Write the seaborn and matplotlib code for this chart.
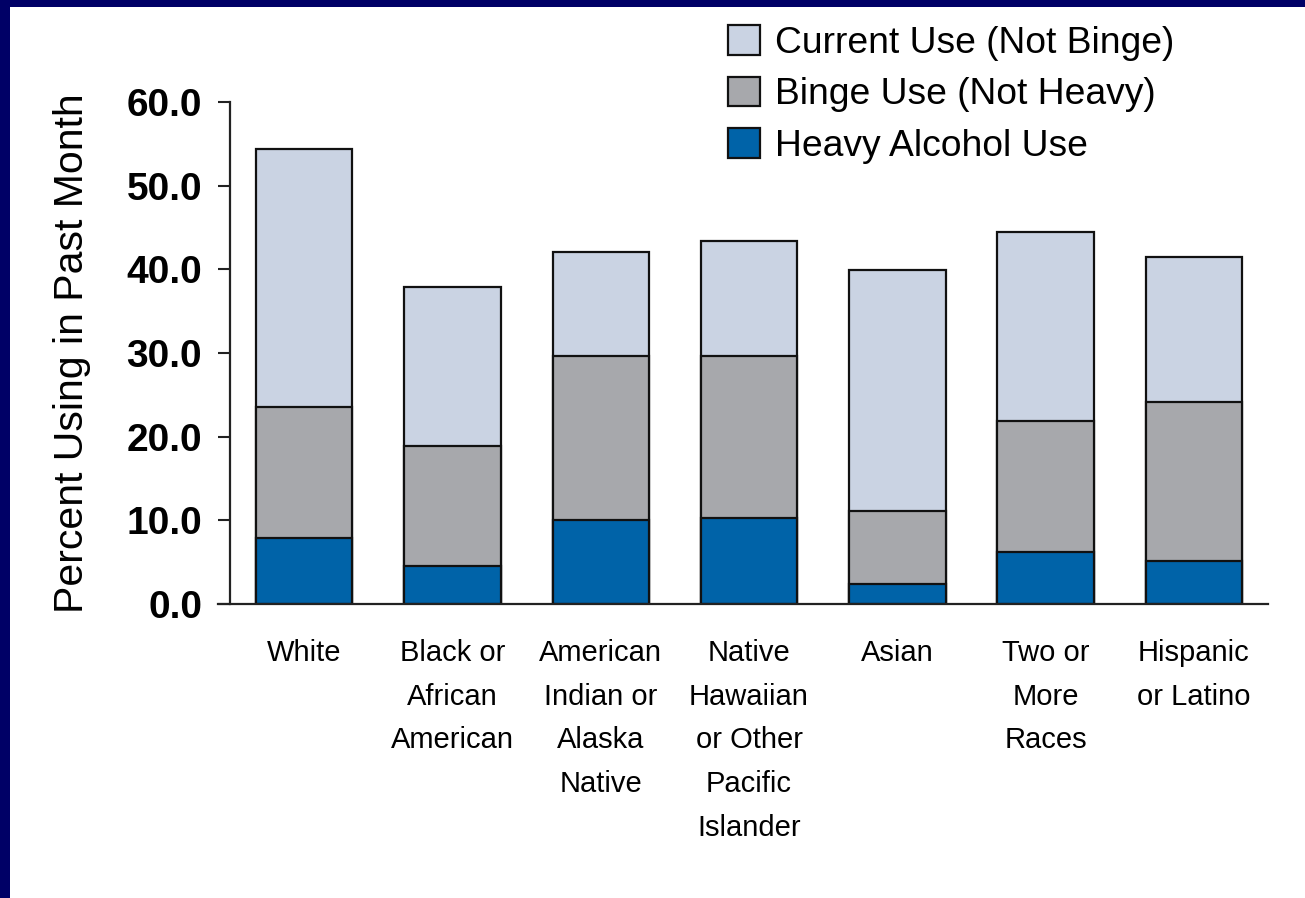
import numpy as np
import pandas as pd
import seaborn as sns
import matplotlib
matplotlib.use("Agg")
import matplotlib.pyplot as plt
from matplotlib.patches import Rectangle

# Past-month alcohol use by race/ethnicity (percent)
groups = [
    "White",
    "Black or\nAfrican\nAmerican",
    "American\nIndian or\nAlaska\nNative",
    "Native\nHawaiian\nor Other\nPacific\nIslander",
    "Asian",
    "Two or\nMore\nRaces",
    "Hispanic\nor Latino",
]
heavy_use = [7.9, 4.5, 10.0, 10.3, 2.4, 6.2, 5.1]
binge_not_heavy = [15.6, 14.4, 19.6, 19.3, 8.7, 15.7, 19.0]
current_not_binge = [30.9, 19.0, 12.5, 13.8, 28.8, 22.6, 17.4]

series_names = ["Current Use (Not Binge)", "Binge Use (Not Heavy)", "Heavy Alcohol Use"]
series_colors = ["#CAD3E3", "#A7A8AC", "#0063A8"]
y_ticks = [0, 10, 20, 30, 40, 50, 60]

sns.set_theme(style="white")
plt.rcParams["font.family"] = ["Liberation Sans", "DejaVu Sans"]
plt.rcParams["text.color"] = "black"
plt.rcParams["axes.labelcolor"] = "black"
plt.rcParams["xtick.color"] = "black"
plt.rcParams["ytick.color"] = "black"

df = pd.DataFrame({
    "group": groups,
    "heavy": heavy_use,
    "binge": binge_not_heavy,
    "current": current_not_binge,
})
# Cumulative heights for stacking, drawn back to front
df["top_heavy"] = df["heavy"]
df["top_binge"] = df["heavy"] + df["binge"]
df["top_current"] = df["top_binge"] + df["current"]

fig = plt.figure(figsize=(13.05, 8.98), dpi=100)
fig.patch.set_facecolor("white")
ax = fig.add_axes([0.1762, 0.3274, 0.7955, 0.559])

for col, name, color in zip(["top_current", "top_binge", "top_heavy"], series_names, series_colors):
    sns.barplot(data=df, x="group", y=col, color=color, label=name,
                width=0.65, edgecolor="#111111", linewidth=1.6,
                saturation=1, ax=ax, order=groups)

ax.set_ylim(0, 60)
ax.set_xlim(-0.5, 6.5)
ax.set_yticks(y_ticks)
ax.set_yticklabels([f"{v:.1f}" for v in y_ticks], fontsize=28, fontweight="bold")
ax.set_xticks(range(len(groups)))
ax.set_xticklabels(groups, fontsize=21, linespacing=1.72, ha="center", va="top")
ax.tick_params(axis="y", direction="out", length=9, width=1.5, color="#222222", pad=11, left=True)
ax.tick_params(axis="x", length=0, pad=25)
ax.set_xlabel("")
ax.set_ylabel("Percent Using in Past Month", fontsize=29.5)
ax.yaxis.label.set_va("center")
ax.yaxis.set_label_coords(-0.1525, 0.5)

for side in ["top", "right"]:
    ax.spines[side].set_visible(False)
ax.spines["left"].set_color("#222222")
ax.spines["left"].set_linewidth(1.6)
ax.spines["bottom"].set_color("#222222")
ax.spines["bottom"].set_linewidth(1.6)
ax.spines["bottom"].set_bounds(-0.58, 6.5)

leg = ax.legend(loc="upper left", bbox_to_anchor=(0.558, 0.972), bbox_transform=fig.transFigure,
                frameon=False, fontsize=26.8, handlelength=0.85, handleheight=0.85,
                handletextpad=0.4, labelspacing=0.42, borderpad=0, borderaxespad=0)
for h in leg.legend_handles:
    h.set_edgecolor("#111111")
    h.set_linewidth(1.6)

# Navy slide frame along the top and left edges
fig.add_artist(Rectangle((0, 1 - 7 / 898), 1, 7 / 898, transform=fig.transFigure,
                         facecolor="#000066", edgecolor="none"))
fig.add_artist(Rectangle((0, 0), 10 / 1305, 1, transform=fig.transFigure,
                         facecolor="#000066", edgecolor="none"))

fig.savefig("out.png", dpi=100, facecolor="white")
